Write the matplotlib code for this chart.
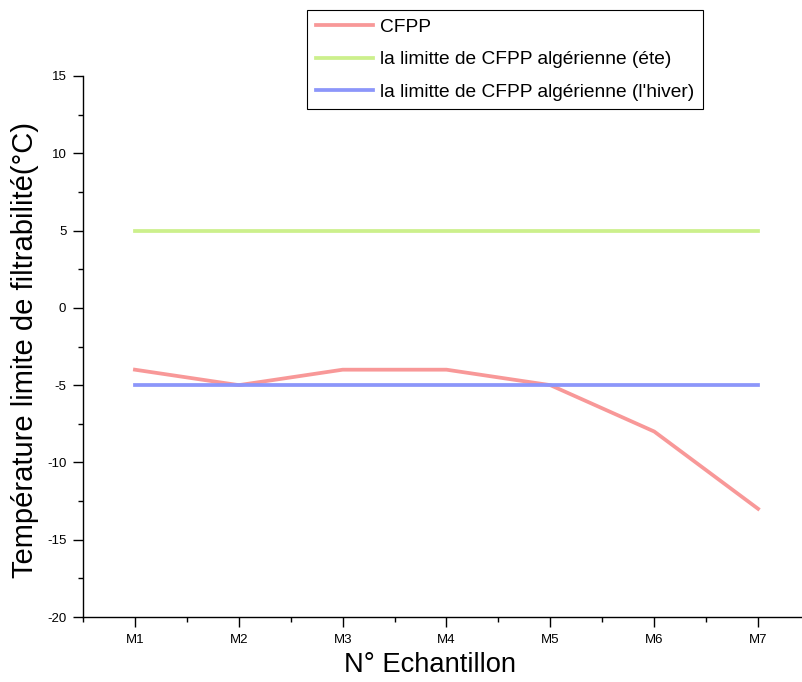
import matplotlib
matplotlib.use("Agg")
from matplotlib import pyplot as plt
from matplotlib.ticker import MultipleLocator

plt.rcParams['font.family'] = ['Liberation Sans', 'DejaVu Sans']
plt.rcParams['axes.unicode_minus'] = False

samples = ["M1", "M2", "M3", "M4", "M5", "M6", "M7"]
cfpp = [-4, -5, -4, -4, -5, -8, -13]
limit_ete = [5, 5, 5, 5, 5, 5, 5]
limit_hiver = [-5, -5, -5, -5, -5, -5, -5]

fig = plt.figure(figsize=(8.03, 6.82), dpi=100)
ax = fig.add_axes([83 / 803, 65 / 682, 727 / 803, 541 / 682])

x = list(range(len(samples)))
ax.plot(x, cfpp, color='#F89898', lw=2.7, label='CFPP')
ax.plot(x, limit_ete, color='#CCF08C', lw=2.7, label='la limitte de CFPP algérienne (éte)')
ax.plot(x, limit_hiver, color='#8C96FA', lw=2.7, label="la limitte de CFPP algérienne (l'hiver)")

ax.set_xlim(-0.5, 6.5)
ax.set_ylim(-20, 15)
ax.set_xticks(x)
ax.set_xticklabels(samples)
ax.xaxis.set_minor_locator(MultipleLocator(0.5))
ax.yaxis.set_major_locator(MultipleLocator(5))
ax.yaxis.set_minor_locator(MultipleLocator(2.5))
ax.tick_params(which='major', direction='out', length=7, width=1, labelsize=9.5, pad=5)
ax.tick_params(which='minor', direction='out', length=3.5, width=1)

for s in ['top', 'right']:
    ax.spines[s].set_visible(False)
for s in ['left', 'bottom']:
    ax.spines[s].set_linewidth(1)

ax.set_xlabel("N° Echantillon", fontsize=19.7)
ax.xaxis.set_label_coords(0.477, -0.089)
ax.xaxis.label.set_va('center')
ax.set_ylabel("Température limite de filtrabilité(°C)", fontsize=21)
ax.yaxis.set_label_coords(-0.08, 0.494)
ax.yaxis.label.set_va('center')

leg = fig.legend(loc='upper left', bbox_to_anchor=(307 / 803, 1 - 10 / 682),
                 fontsize=13.8, handlelength=3.0, handletextpad=0.35,
                 labelspacing=0.78, borderpad=0.45, borderaxespad=0,
                 fancybox=False, edgecolor='black', framealpha=1)
leg.get_frame().set_linewidth(0.8)

fig.savefig("out.png", dpi=100)
